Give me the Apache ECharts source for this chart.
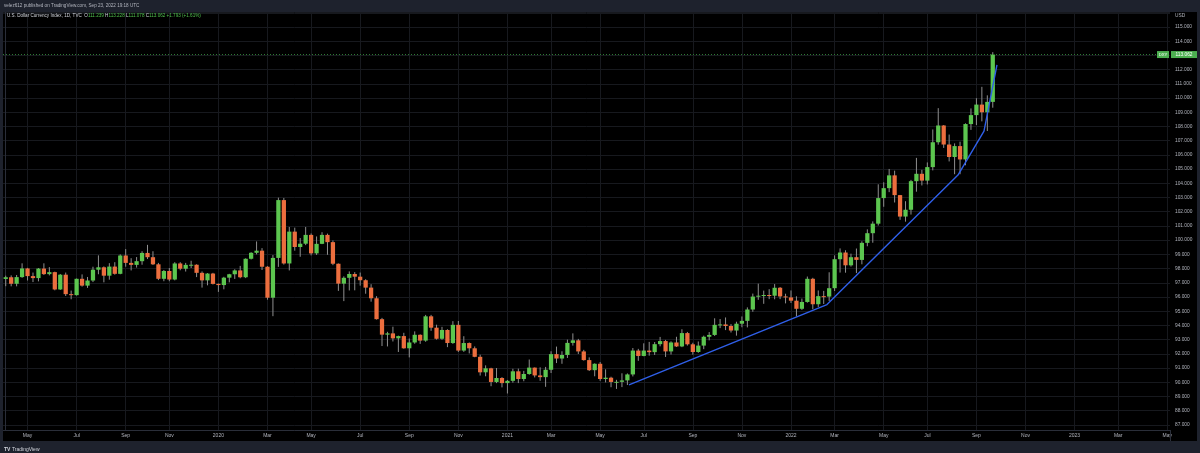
<!DOCTYPE html>
<html><head><meta charset="utf-8">
<script src="https://cdn.jsdelivr.net/npm/echarts@6/dist/echarts.min.js"></script>
<style>html,body{margin:0;padding:0;background:#000;}#c{width:1200px;height:453px;}</style>
</head><body><div id="c"></div>
<script>
// Weekly candles (week starting Monday), first week = 2019-04-01
const weekStart = '2019-04-01';
const totalWeeks = 214; // includes empty future weeks on the right
const opens = [97.27,97.39,96.93,97.40,98.01,97.47,97.33,98.00,97.61,97.75,
96.53,97.57,96.20,96.13,97.28,96.80,97.16,97.92,98.09,97.50,
98.14,97.63,98.92,98.40,98.26,98.52,99.10,98.80,98.30,97.28,
97.83,97.23,98.36,97.99,98.26,98.27,97.70,97.17,97.65,96.92,
96.84,97.36,97.60,97.87,97.39,98.69,99.11,99.26,98.13,95.95,
98.75,102.82,98.36,100.60,99.52,99.75,100.37,99.07,99.74,100.37,
99.86,98.34,96.94,97.35,97.62,97.43,97.18,96.66,95.91,94.44,
93.35,93.44,93.09,93.25,92.39,92.80,93.34,92.93,94.64,93.84,
93.06,93.68,92.76,94.04,92.23,92.76,92.39,91.79,90.70,90.98,
90.02,90.30,89.94,90.10,90.77,90.23,90.58,91.03,90.48,90.36,
90.88,91.98,91.67,91.92,92.77,92.95,92.17,91.56,90.85,91.30,
90.23,90.32,90.02,90.03,90.13,90.55,92.23,91.85,92.23,92.12,
92.68,92.90,92.17,92.80,92.52,93.46,92.67,92.13,92.58,93.20,
93.33,94.04,94.07,93.96,93.64,94.12,94.32,95.12,96.03,96.09,
96.14,96.09,96.65,96.04,95.97,95.74,95.17,95.65,97.28,95.49,
96.06,96.03,96.62,98.66,99.13,98.23,98.80,98.61,99.81,100.49,
101.16,102.96,103.66,104.56,103.17,101.66,102.14,104.15,104.67,104.19,
105.14,106.89,108.07,106.73,105.85,106.62,105.68,108.17,108.80,109.54,
109.00,109.73];
const closes = [97.39,96.93,97.40,98.01,97.47,97.33,98.00,97.61,97.75,96.53,
97.57,96.20,96.13,97.28,96.80,97.16,97.92,98.09,97.50,98.14,
97.63,98.92,98.40,98.26,98.52,99.10,98.80,98.30,97.28,97.83,
97.23,98.36,97.99,98.26,98.27,97.70,97.17,97.65,96.92,96.84,
97.36,97.60,97.87,97.39,98.69,99.11,99.26,98.13,95.95,98.75,
102.82,98.36,100.60,99.52,99.75,100.37,99.07,99.74,100.37,99.86,
98.34,96.94,97.35,97.62,97.43,97.18,96.66,95.91,94.44,93.35,
93.44,93.09,93.25,92.39,92.80,93.34,92.93,94.64,93.84,93.06,
93.68,92.76,94.04,92.23,92.76,92.39,91.79,90.70,90.98,90.02,
90.30,89.94,90.10,90.77,90.23,90.58,91.03,90.48,90.36,90.88,
91.98,91.67,91.92,92.77,92.95,92.17,91.56,90.85,91.30,90.23,
90.32,90.02,90.03,90.13,90.55,92.23,91.85,92.23,92.12,92.68,
92.90,92.17,92.80,92.52,93.46,92.67,92.13,92.58,93.20,93.33,
94.04,94.07,93.96,93.64,94.12,94.32,95.12,96.03,96.09,96.14,
96.09,96.65,96.04,95.97,95.74,95.17,95.65,97.28,95.49,96.06,
96.03,96.62,98.66,99.13,98.23,98.80,98.61,99.81,100.49,101.16,
102.96,103.66,104.56,103.17,101.66,102.14,104.15,104.67,104.19,105.14,
106.89,108.07,106.73,105.85,106.62,105.68,108.17,108.80,109.54,109.00,
109.73,113.06];
const lows = [96.76,96.75,96.75,97.35,97.16,97.05,97.10,97.55,97.52,96.47,
96.50,96.07,95.84,96.10,96.73,96.64,97.05,97.60,97.03,97.22,
97.57,97.60,98.13,97.87,98.07,98.27,98.67,98.25,97.19,97.11,
97.11,97.17,97.88,97.79,98.04,97.40,96.66,96.82,96.88,96.36,
96.54,97.03,97.27,97.32,97.33,98.64,99.00,97.90,95.81,94.65,
98.12,98.28,97.87,99.26,98.83,99.65,98.93,98.96,99.72,98.97,
98.24,96.43,95.71,96.46,96.47,96.80,96.23,95.67,94.41,92.55,
92.52,92.87,92.13,92.36,91.75,92.71,92.70,92.85,93.62,93.00,
92.99,92.47,92.70,92.13,92.14,92.03,91.76,90.47,90.42,89.72,
89.94,89.64,89.21,89.97,89.94,90.07,90.53,90.34,90.10,89.68,
90.65,91.35,91.30,91.71,92.58,91.99,91.52,90.79,90.42,90.10,
89.99,89.65,89.53,89.66,89.81,90.41,91.51,91.83,91.87,91.92,
92.53,91.78,91.95,92.48,92.47,92.58,91.94,92.07,92.33,92.95,
93.26,93.81,93.67,93.50,93.28,93.87,93.86,94.96,95.80,95.52,
95.85,95.84,95.85,95.55,95.58,94.63,95.09,95.60,95.14,95.30,
95.51,95.72,96.42,97.72,97.71,98.14,97.68,98.30,99.57,99.82,
101.03,102.35,103.38,102.65,101.43,101.30,101.80,103.41,103.85,103.92,
104.91,106.72,106.49,105.54,104.64,104.64,105.27,107.76,108.10,108.36,
107.68,109.32];
const highs = [97.50,97.52,97.55,98.37,98.05,97.72,98.04,98.37,98.10,97.78,
97.62,97.72,96.45,97.30,97.59,97.41,98.13,98.93,98.15,98.38,
98.45,99.00,99.37,98.73,98.81,99.22,99.67,99.22,98.40,97.90,
98.04,98.45,98.45,98.40,98.55,98.30,97.80,97.68,97.70,96.95,
97.42,97.63,97.95,98.19,98.72,99.15,99.91,99.44,98.17,98.95,
102.99,102.97,100.93,100.88,100.15,100.93,100.47,100.26,100.56,100.46,
99.98,98.36,97.45,97.80,97.75,97.72,97.25,96.90,96.06,94.53,
93.55,93.91,93.28,93.48,93.08,93.58,93.37,94.74,94.74,94.05,
93.90,93.73,94.30,94.31,93.24,92.80,92.52,91.94,91.19,91.02,
91.00,90.36,90.16,90.95,90.96,90.80,91.60,91.04,91.05,91.08,
92.18,92.51,92.18,93.00,93.44,93.05,92.28,91.75,91.33,91.42,
90.91,90.39,90.17,90.63,90.62,92.41,92.35,92.74,92.84,92.83,
93.19,92.98,92.88,93.20,93.73,93.54,92.78,92.87,93.28,93.53,
94.50,94.45,94.56,94.09,94.26,94.63,95.27,96.24,96.94,96.45,
96.55,96.91,96.70,96.23,96.46,96.05,95.89,97.44,97.35,96.46,
96.43,97.74,98.93,99.42,99.29,99.05,99.41,99.92,100.76,101.32,
103.93,104.07,105.01,104.89,103.18,102.74,104.24,105.79,104.95,105.47,
107.79,109.29,108.10,107.43,106.81,106.93,108.22,109.27,109.99,110.79,
110.19,113.23];
// x-axis tick labels (first trading day of month) and their text
const tickDates = ['2019-05-01','2019-07-01','2019-09-03','2019-11-01','2020-01-02','2020-03-02','2020-05-01','2020-07-01','2020-09-01','2020-11-02','2021-01-04','2021-03-01','2021-05-03','2021-07-01','2021-09-01','2021-11-01','2022-01-03','2022-03-01','2022-05-02','2022-07-01','2022-09-01','2022-11-01','2023-01-02','2023-03-01','2023-05-01'];
const tickTexts = ['May','Jul','Sep','Nov','2020','Mar','May','Jul','Sep','Nov','2021','Mar','May','Jul','Sep','Nov','2022','Mar','May','Jul','Sep','Nov','2023','Mar','May'];
// Hand-drawn blue trend line (week position, price)
const trendX = [114.29, 150.6, 174.62, 179.39, 181.77];
const trendY = [89.81, 95.47, 104.58, 107.68, 112.33];
const lastPrice = 113.062;

const DAY = 86400000;
const t0 = Date.parse(weekStart + 'T00:00:00Z');
const categories = [];
for (let i = 0; i < totalWeeks; i++) categories.push(new Date(t0 + i * 7 * DAY).toISOString().slice(0, 10));
const labelMap = new Map();
tickDates.forEach((d, k) => {
  const idx = Math.floor((Date.parse(d + 'T00:00:00Z') - t0) / (7 * DAY));
  labelMap.set(idx, tickTexts[k]);
});
const candleData = closes.map((c, i) => [i, opens[i], c, lows[i], highs[i]]);
const trendData = trendX.map((x, k) => [x, trendY[k]]);

const UP = '#5cc64f', DOWN = '#ec6e3e', WICK = '#8f8f8f';
const GRIDC = '#17191e', AXC = '#2a2e39', TXT = '#b2b5be';
const FONT = 'Liberation Sans';

const chart = echarts.init(document.getElementById('c'), null, {renderer: 'canvas'});
const option = {
  backgroundColor: '#000',
  animation: false,
  grid: {left: 3, right: 30, top: 12, bottom: 23, outerBoundsMode: 'none', containLabel: false},
  xAxis: [{
    type: 'category', data: categories, boundaryGap: true,
    axisLine: {show: true, lineStyle: {color: AXC}},
    axisTick: {show: false},
    axisLabel: {interval: (i) => labelMap.has(i), formatter: (v, i) => labelMap.get(i) || '',
      fontSize: 5, color: TXT, margin: 3.5, fontFamily: FONT, hideOverlap: false},
    splitLine: {show: true, interval: (i) => labelMap.has(i), alignWithLabel: true, lineStyle: {color: GRIDC, width: 1}}
  }, {
    type: 'value', show: false, min: -0.5, max: totalWeeks - 0.5, gridIndex: 0
  }],
  yAxis: {
    type: 'value', position: 'right', min: 86.64, max: 116.056, splitNumber: 30, minInterval: 1, maxInterval: 1,
    axisLine: {show: true, lineStyle: {color: AXC}},
    axisTick: {show: false},
    axisLabel: {fontSize: 4.8, color: TXT, margin: 5, fontFamily: FONT,
      formatter: (v) => (Math.abs(v - Math.round(v)) < 1e-6 && v <= 115.5 && v >= 86.9) ? v.toFixed(3) : ''},
    splitLine: {show: true, lineStyle: {color: GRIDC, width: 1}}
  },
  series: [{
    type: 'custom', xAxisIndex: 0, yAxisIndex: 0,
    encode: {x: 0, y: [1, 2, 3, 4]},
    data: candleData,
    renderItem: function (params, api) {
      const i = api.value(0), o = api.value(1), c = api.value(2), l = api.value(3), h = api.value(4);
      const pH = api.coord([i, h]), pL = api.coord([i, l]), pO = api.coord([i, o]), pC = api.coord([i, c]);
      const bw = api.size([1, 0])[0] * 0.78;
      const top = Math.min(pO[1], pC[1]);
      const bh = Math.max(Math.abs(pO[1] - pC[1]), 1);
      return {type: 'group', children: [
        {type: 'line', shape: {x1: pH[0], y1: pH[1], x2: pL[0], y2: pL[1]}, style: {stroke: WICK, lineWidth: 1}},
        {type: 'rect', shape: {x: pO[0] - bw / 2, y: top, width: bw, height: bh}, style: {fill: c >= o ? UP : DOWN}}
      ]};
    }
  }, {
    type: 'line', xAxisIndex: 1, yAxisIndex: 0, data: trendData, symbol: 'none',
    lineStyle: {color: '#2f5fe8', width: 1.4}, z: 5,
    markLine: {silent: true, symbol: ['none', 'none'], label: {show: false},
      lineStyle: {color: '#2d7a33', type: [1, 2], width: 1},
      data: [{yAxis: lastPrice}]}
  }]
};
chart.setOption(option);

const py = chart.convertToPixel({yAxisIndex: 0}, lastPrice);
chart.setOption({graphic: [
  {type: 'rect', z: 100, shape: {x: 0, y: 0, width: 1200, height: 12}, style: {fill: '#1e222d'}},
  {type: 'rect', z: 100, shape: {x: 0, y: 441, width: 1200, height: 12}, style: {fill: '#1e222d'}},
  {type: 'rect', z: 100, shape: {x: 0, y: 0, width: 3, height: 453}, style: {fill: '#1e222d'}},
  {type: 'rect', z: 100, shape: {x: 1197, y: 0, width: 3, height: 453}, style: {fill: '#1e222d'}},
  {type: 'line', z: 50, shape: {x1: 1170.5, y1: 430, x2: 1170.5, y2: 441}, style: {stroke: AXC, lineWidth: 1}},
  {type: 'text', z: 101, x: 4, y: 6, style: {text: 'velez612 published on TradingView.com, Sep 23, 2022 19:18 UTC',
    fill: TXT, fontSize: 4.6, fontFamily: FONT, verticalAlign: 'middle'}},
  {type: 'text', z: 101, x: 7, y: 16, style: {
    text: '{t|U.S. Dollar Currency Index, 1D, TVC}  {l|O}{v|111.239} {l|H}{v|113.228} {l|L}{v|111.078} {l|C}{v|113.062} {v|+1.793 (+1.61%)}',
    verticalAlign: 'middle', fontFamily: FONT, fontSize: 4.6,
    rich: {t: {fill: '#d1d4dc', fontSize: 4.6, fontFamily: FONT}, l: {fill: '#d1d4dc', fontSize: 4.6, fontFamily: FONT}, v: {fill: '#4fc24c', fontSize: 4.6, fontFamily: FONT}}}},
  {type: 'text', z: 101, x: 1175, y: 15.5, style: {text: 'USD', fill: TXT, fontSize: 4.8, fontFamily: FONT, verticalAlign: 'middle'}},
  {type: 'rect', z: 101, shape: {x: 1157, y: py - 3.5, width: 12, height: 7}, style: {fill: '#4caf50'}},
  {type: 'text', z: 102, x: 1163, y: py, style: {text: 'DXY', fill: '#fff', fontSize: 4.2, fontFamily: FONT, align: 'center', verticalAlign: 'middle'}},
  {type: 'rect', z: 101, shape: {x: 1171, y: py - 3.5, width: 26, height: 7}, style: {fill: '#4caf50'}},
  {type: 'text', z: 102, x: 1184, y: py, style: {text: '113.062', fill: '#fff', fontSize: 4.8, fontFamily: FONT, align: 'center', verticalAlign: 'middle'}},
  {type: 'text', z: 101, x: 4, y: 449.5, style: {text: 'TV', fill: '#d1d4dc', fontSize: 5, fontWeight: 'bold', fontFamily: FONT, verticalAlign: 'middle'}},
  {type: 'text', z: 101, x: 12, y: 449.5, style: {text: 'TradingView', fill: '#d1d4dc', fontSize: 5, fontFamily: FONT, verticalAlign: 'middle'}}
]});
</script></body></html>
